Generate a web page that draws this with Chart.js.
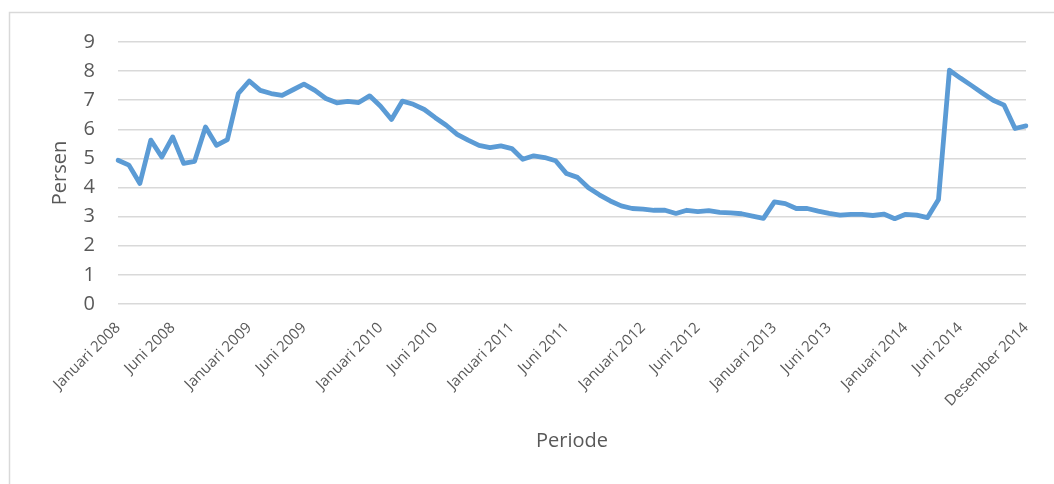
<!DOCTYPE html>
<html>
<head>
<meta charset="utf-8">
<title>Persen per Periode</title>
<script src="https://cdn.jsdelivr.net/npm/chart.js@4/dist/chart.umd.min.js"></script>
<style>
    html, body { margin: 0; padding: 0; background: #ffffff; }
    #wrap { position: relative; width: 1054px; height: 484px; }
</style>
</head>
<body>
<div id="wrap">
    <canvas id="persenChart" width="1054" height="484"></canvas>
</div>
<script>
// Month names and years used to build the category labels
const monthNames = ['Januari', 'Februari', 'Maret', 'April', 'Mei', 'Juni',
    'Juli', 'Agustus', 'September', 'Oktober', 'November', 'Desember'];
const years = [2008, 2009, 2010, 2011, 2012, 2013, 2014];

// Monthly values (Persen), Januari 2008 - Desember 2014
const values2008 = [4.94, 4.77, 4.14, 5.63, 5.05, 5.74, 4.83, 4.90, 6.08, 5.45, 5.65, 7.23];
const values2009 = [7.66, 7.34, 7.23, 7.17, 7.36, 7.55, 7.34, 7.06, 6.91, 6.96, 6.92, 7.15];
const values2010 = [6.79, 6.34, 6.97, 6.86, 6.68, 6.40, 6.14, 5.83, 5.63, 5.45, 5.37, 5.43];
const values2011 = [5.34, 4.97, 5.09, 5.03, 4.92, 4.48, 4.35, 3.99, 3.75, 3.54, 3.37, 3.28];
const values2012 = [3.26, 3.22, 3.22, 3.11, 3.22, 3.17, 3.21, 3.15, 3.13, 3.10, 3.02, 2.94];
const values2013 = [3.51, 3.45, 3.28, 3.28, 3.19, 3.11, 3.05, 3.08, 3.08, 3.04, 3.09, 2.93];
const values2014 = [3.08, 3.05, 2.97, 3.59, 8.03, 7.76, 7.51, 7.25, 7.00, 6.83, 6.03, 6.12];

// Y axis ticks
const yTicks = [0, 1, 2, 3, 4, 5, 6, 7, 8, 9];

const categories = [];
years.forEach(function (y) {
    monthNames.forEach(function (m) { categories.push(m + ' ' + y); });
});
const persen = [].concat(values2008, values2009, values2010, values2011,
    values2012, values2013, values2014);

const textGrey = '#595959';
const gridGrey = '#d9d9d9';
const fontFamily = '"Open Sans", "Liberation Sans", sans-serif';

// light frame round the chart (left and top edges only show in the picture)
const framePlugin = {
    id: 'frame',
    beforeDraw(chart) {
        const c = chart.ctx;
        c.save();
        c.strokeStyle = gridGrey;
        c.lineWidth = 1.5;
        c.beginPath();
        c.moveTo(9.5, 484);
        c.lineTo(9.5, 12.5);
        c.lineTo(1054, 12.5);
        c.stroke();
        c.restore();
    }
};

document.addEventListener('DOMContentLoaded', function () {
    const ctx = document.getElementById('persenChart');
    new Chart(ctx.getContext('2d'), {
        type: 'line',
        data: {
            labels: categories,
            datasets: [{
                label: 'Persen',
                data: persen,
                borderColor: '#5b9bd5',
                backgroundColor: '#5b9bd5',
                borderWidth: 4.8,
                pointRadius: 0,
                tension: 0,
                borderJoinStyle: 'round',
                borderCapStyle: 'round',
                fill: false
            }]
        },
        options: {
            responsive: false,
            animation: false,
            layout: { padding: { left: 40, right: 28, top: 42, bottom: 20 } },
            plugins: {
                legend: { display: false },
                tooltip: { enabled: false }
            },
            scales: {
                x: {
                    offset: false,
                    grid: { display: false, drawTicks: false },
                    border: { display: false },
                    ticks: {
                        autoSkip: false,
                        maxRotation: 45,
                        minRotation: 45,
                        padding: 15,
                        color: textGrey,
                        font: { family: fontFamily, size: 15 },
                        callback: function (val, i) {
                            const name = categories[i];
                            if (i === categories.length - 1) return name;
                            const m = i % 12;
                            return (m === 0 || m === 5) ? name : '';
                        }
                    },
                    title: {
                        display: true,
                        text: 'Periode',
                        color: textGrey,
                        font: { family: fontFamily, size: 20 },
                        padding: { top: 0, bottom: 11 }
                    },
                    afterFit: function (scale) { scale.height = 160; }
                },
                y: {
                    min: yTicks[0],
                    max: yTicks[yTicks.length - 1],
                    afterBuildTicks: function (scale) {
                        scale.ticks = yTicks.map(function (v) { return { value: v }; });
                    },
                    grid: { color: gridGrey, lineWidth: 1.5, drawTicks: false },
                    border: { display: false },
                    ticks: {
                        padding: 23,
                        color: textGrey,
                        font: { family: fontFamily, size: 20 }
                    },
                    title: {
                        display: true,
                        text: 'Persen',
                        color: textGrey,
                        font: { family: fontFamily, size: 20 },
                        padding: { top: 8, bottom: 0 }
                    },
                    afterFit: function (scale) { scale.width = 78; }
                }
            }
        },
        plugins: [framePlugin]
    });
});
</script>
</body>
</html>
